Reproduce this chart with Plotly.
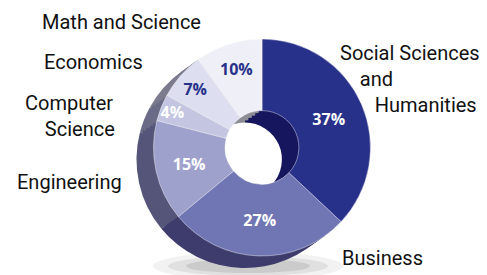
import plotly.graph_objects as go

# ---- data ----
categories = ["Social Sciences and Humanities", "Business", "Engineering",
              "Computer Science", "Economics", "Math and Science"]
shares = [37, 27, 15, 4, 7, 10]

face_colors = ["#283189", "#7076b4", "#9ea1cb", "#c4c6e1", "#dddff0", "#eff0f7"]
side_colors = ["#16165f", "#3e3c6c", "#55557a", "#6a6b86", "#7b7b8d", "#8d8d95"]
text_colors = ["white", "white", "white", "white", "#283189", "#283189"]

W, H = 487, 275
CX, CY, D = 262, 147.5, 217      # face centre / diameter (px)
DX, DY = -17, 12                 # depth offset (px)
HOLE = 0.34


def domain(cx, cy, d):
    return dict(x=[(cx - d / 2) / W, (cx + d / 2) / W],
                y=[1 - (cy + d / 2) / H, 1 - (cy - d / 2) / H])


fig = go.Figure()

# extrusion layers (back to front)
for t in [1.0, 0.8, 0.6, 0.4, 0.2]:
    fig.add_trace(go.Pie(
        labels=categories, values=shares, sort=False, direction="clockwise",
        rotation=0, hole=HOLE, textinfo="none", hoverinfo="skip",
        marker=dict(colors=side_colors, line=dict(width=0)),
        domain=domain(CX + DX * t, CY + DY * t, D), showlegend=False,
    ))

# face
fig.add_trace(go.Pie(
    labels=categories, values=shares, sort=False, direction="clockwise",
    rotation=0, hole=HOLE,
    texttemplate="%{value}%", textposition="inside",
    insidetextorientation="horizontal",
    textfont=dict(family="Open Sans", size=16, color=text_colors, weight="bold"),
    marker=dict(colors=face_colors, line=dict(width=0.7, color="rgba(255,255,255,0.6)")),
    domain=domain(CX, CY, D), showlegend=False,
))

# soft shadow under the donut
shapes = []
for op, rx, ry in [(0.05, 95, 14), (0.07, 80, 10), (0.09, 62, 7)]:
    sx, sy = 248, 266
    shapes.append(dict(type="circle", xref="paper", yref="paper", layer="below",
                       x0=(sx - rx) / W, x1=(sx + rx) / W,
                       y0=1 - (sy + ry) / H, y1=1 - (sy - ry) / H,
                       fillcolor=f"rgba(0,0,0,{op})", line=dict(width=0)))

# outside labels
label_text = {
    "Social Sciences and Humanities":
        "Social Sciences<br>&nbsp;&nbsp;&nbsp;&nbsp;and<br>&nbsp;&nbsp;&nbsp;&nbsp;&nbsp;&nbsp;&nbsp;Humanities",
    "Business": "Business",
    "Engineering": "Engineering",
    "Computer Science": "Computer<br>&nbsp;&nbsp;&nbsp;&nbsp;Science",
    "Economics": "Economics",
    "Math and Science": "Math and Science",
}
label_pos = {  # (x px, y px, xanchor, yanchor)
    "Social Sciences and Humanities": (338, 39, "left", "top"),
    "Business": (340, 258, "left", "middle"),
    "Engineering": (124, 182, "right", "middle"),
    "Computer Science": (117, 89, "right", "top"),
    "Economics": (42, 62, "left", "middle"),
    "Math and Science": (40, 22, "left", "middle"),
}
annotations = []
for c in categories:
    x, y, xa, ya = label_pos[c]
    annotations.append(dict(
        text=label_text[c], x=x / W, y=1 - y / H, xref="paper", yref="paper",
        xanchor=xa, yanchor=ya, showarrow=False, align="left",
        font=dict(family="Roboto", size=20, color="#111111"),
    ))

fig.update_layout(
    width=W, height=H, margin=dict(l=0, r=0, t=0, b=0),
    paper_bgcolor="white", plot_bgcolor="white",
    shapes=shapes, annotations=annotations,
    uniformtext=dict(minsize=15, mode="show"),
)

fig.write_html("out.html", config={"displayModeBar": False},
               post_script="document.body.style.margin='0';document.body.style.overflow='hidden';")
